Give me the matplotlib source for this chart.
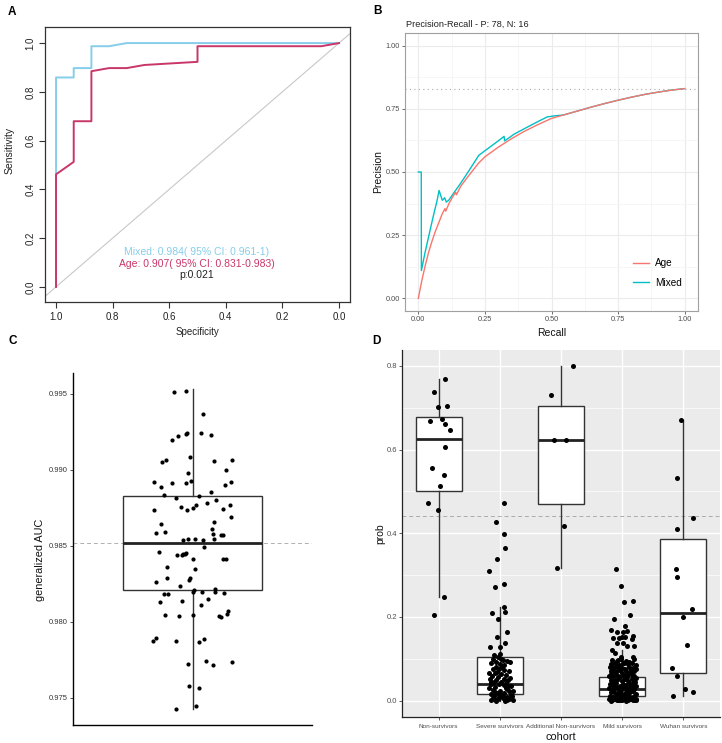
import matplotlib
matplotlib.use("Agg")
import matplotlib.pyplot as plt
from matplotlib import font_manager
from matplotlib.lines import Line2D
import numpy as np

plt.rcParams['font.family'] = ['Liberation Sans', 'DejaVu Sans']
names = {f.name for f in font_manager.fontManager.ttflist}
HAS_NARROW = 'Liberation Sans Narrow' in names
NARROW = ['Liberation Sans Narrow', 'Liberation Sans'] if HAS_NARROW else ['Liberation Sans']

W, H = 722, 743

# ---------------- Panel A data (ROC) ----------------
mixed_spec = [1.0, 1.0, 0.9375, 0.9375, 0.875, 0.875, 0.8125, 0.75, 0.0]
mixed_sens = [0.0, 67/78, 67/78, 70/78, 70/78, 77/78, 77/78, 1.0, 1.0]
age_spec = [1.0, 1.0, 0.9375, 0.9375, 0.875, 0.875, 0.8125, 0.75, 0.6875, 0.5, 0.5, 0.0625, 0.0]
age_sens = [0.0, 36/78, 40/78, 53/78, 53/78, 69/78, 70/78, 70/78, 71/78, 72/78, 77/78, 77/78, 1.0]
roc_ticks = [1.0, 0.8, 0.6, 0.4, 0.2, 0.0]
mixed_label = "Mixed: 0.984( 95% CI: 0.961-1)"
age_label = "Age: 0.907( 95% CI: 0.831-0.983)"
p_label = "p:0.021"

# ---------------- Panel B data (PR) ----------------
age_recall = [0, 0.013, 0.026, 0.038, 0.051, 0.064, 0.077, 0.09, 0.1, 0.103, 0.115, 0.128, 0.14,
              0.143, 0.16, 0.18, 0.2, 0.227, 0.25, 0.3, 0.35, 0.4, 0.45, 0.5, 0.55, 0.6, 0.65,
              0.7, 0.75, 0.8, 0.85, 0.9, 0.95, 1.0]
age_prec = [0, 0.07, 0.13, 0.18, 0.225, 0.265, 0.3, 0.335, 0.355, 0.345, 0.375, 0.4, 0.42,
            0.41, 0.445, 0.473, 0.5, 0.536, 0.56, 0.598, 0.632, 0.662, 0.688, 0.712, 0.727,
            0.742, 0.757, 0.771, 0.784, 0.796, 0.807, 0.816, 0.824, 0.83]
mixed_recall = [0, 0.011, 0.0115, 0.025, 0.04, 0.055, 0.07, 0.078, 0.09, 0.099, 0.105, 0.114,
                0.135, 0.158, 0.19, 0.227, 0.25, 0.3, 0.322, 0.324, 0.36, 0.41, 0.45, 0.484,
                0.51, 0.54, 0.55, 0.6, 0.65, 0.7, 0.75, 0.8, 0.85, 0.9, 0.95, 1.0]
mixed_prec = [0.5, 0.5, 0.11, 0.18, 0.25, 0.32, 0.385, 0.427, 0.388, 0.398, 0.381, 0.388,
              0.42, 0.454, 0.505, 0.566, 0.584, 0.623, 0.641, 0.623, 0.65, 0.678, 0.7, 0.718,
              0.722, 0.725, 0.727, 0.742, 0.757, 0.771, 0.784, 0.796, 0.807, 0.816, 0.824, 0.83]
pr_baseline = 78 / 94
pr_title = "Precision-Recall - P: 78, N: 16"

# ---------------- Panel C data (bootstrap AUC) ----------------
auc_vals = [0.99511, 0.99520, 0.99370, 0.99199, 0.99226, 0.99239, 0.99241, 0.99243, 0.99230,
            0.99052, 0.99065, 0.99083, 0.99061, 0.99065, 0.99002, 0.98982, 0.98918, 0.98885,
            0.98916, 0.98912, 0.98929, 0.98857, 0.98901, 0.98923, 0.98835, 0.98815, 0.98828,
            0.98802, 0.98736, 0.98758, 0.98736, 0.98749, 0.98769, 0.98780, 0.98745, 0.98769,
            0.98692, 0.98646, 0.98657, 0.98582, 0.98591, 0.98613, 0.98576, 0.98574, 0.98569,
            0.98538, 0.98543, 0.98545, 0.98541, 0.98545, 0.98495, 0.98462, 0.98440, 0.98440,
            0.98444, 0.98446, 0.98451, 0.98411, 0.98413, 0.98413, 0.98363, 0.98347, 0.98262,
            0.98290, 0.98279, 0.98286, 0.98235, 0.98185, 0.98187, 0.98198, 0.98207, 0.98198,
            0.98198, 0.98214, 0.98192, 0.98132, 0.98137, 0.98152, 0.98110, 0.98047, 0.98036,
            0.98047, 0.98040, 0.98033, 0.98051, 0.98071, 0.97875, 0.97897, 0.97873, 0.97867,
            0.97886, 0.97726, 0.97741, 0.97720, 0.97737, 0.97579, 0.97566, 0.97428, 0.97445]
auc_jitter = [-0.092, -0.033, 0.052, -0.102, -0.072, -0.035, -0.030, 0.042, 0.094, -0.154,
              -0.131, -0.015, 0.110, 0.196, 0.169, -0.025, -0.192, -0.156, -0.102, -0.032,
              -0.010, 0.094, 0.164, 0.192, -0.144, -0.085, 0.032, 0.119, -0.192, -0.059,
              -0.030, 0.000, 0.020, 0.074, 0.151, 0.186, 0.192, -0.157, 0.107, -0.181,
              -0.136, 0.097, 0.102, 0.142, 0.152, -0.049, -0.023, 0.013, 0.054, 0.107,
              0.057, -0.167, -0.080, -0.055, -0.047, -0.040, -0.033, 0.002, 0.152, 0.166,
              -0.129, 0.012, -0.181, -0.126, -0.020, -0.015, -0.064, -0.141, -0.124, 0.005,
              0.010, 0.049, 0.114, 0.115, 0.157, -0.162, -0.054, 0.077, 0.045, -0.137,
              -0.067, 0.002, 0.134, 0.144, 0.174, 0.176, -0.199, -0.181, -0.082, 0.033,
              0.060, -0.023, 0.070, 0.102, 0.197, -0.020, 0.035, -0.084, 0.020]
auc_box = dict(q1=0.9821, med=0.9852, q3=0.98829, whislo=0.97428, whishi=0.99533)
auc_mean = 0.98518
auc_ticks = [0.975, 0.980, 0.985, 0.990, 0.995]

# ---------------- Panel D data (cohort probabilities) ----------------
cohorts = ["Non-survivors", "Severe survivors", "Additional Non-survivors",
           "Mild survivors", "Wuhan survivors"]
box_q1 = [0.502, 0.016, 0.470, 0.011, 0.065]
box_med = [0.626, 0.039, 0.622, 0.027, 0.209]
box_q3 = [0.679, 0.104, 0.703, 0.056, 0.387]
box_lo = [0.247, 0.0, 0.316, 0.0, 0.012]
box_hi = [0.768, 0.225, 0.800, 0.120, 0.670]
threshold = 0.4415

non_surv_prob = [0.768, 0.738, 0.702, 0.704, 0.668, 0.673, 0.662, 0.647, 0.606, 0.556,
                 0.539, 0.512, 0.472, 0.456, 0.247, 0.204]
non_surv_dx = [0.098, -0.076, -0.011, 0.142, -0.136, 0.049, 0.103, 0.191, 0.103, -0.103,
               0.093, 0.027, -0.180, -0.016, 0.093, -0.076]

severe_prob = [0.472, 0.426, 0.398, 0.366, 0.339, 0.309, 0.271, 0.279, 0.225, 0.210, 0.213,
               0.195, 0.163, 0.151, 0.139, 0.128, 0.129,
               0.109, 0.112, 0.105, 0.099, 0.097, 0.093, 0.095, 0.089, 0.088, 0.080, 0.075,
               0.075, 0.073, 0.067, 0.064, 0.059, 0.056, 0.061, 0.051, 0.049, 0.045, 0.045,
               0.049, 0.040, 0.040, 0.038, 0.035, 0.033, 0.030, 0.030, 0.026, 0.024, 0.024,
               0.019, 0.022, 0.016, 0.018, 0.011, 0.013, 0.0096, 0.011, 0.006, 0.005, 0.006,
               0.003, 0.0, 0.0, 0.002, 0.002,
               0.085, 0.070, 0.055, 0.028, 0.010, 0.100, 0.065, 0.042, 0.015, 0.003,
               0.092, 0.081, 0.069, 0.052, 0.036, 0.021, 0.008, 0.001, 0.044, 0.013]
severe_dx = [0.071, -0.071, 0.060, 0.082, -0.044, -0.174, -0.082, 0.076, 0.076, -0.125, 0.087,
             -0.027, 0.125, -0.049, 0.087, -0.158, 0.005,
             -0.092, 0.005, -0.038, -0.120, 0.049, -0.065, 0.114, -0.147, 0.000, -0.065, -0.114,
             -0.011, 0.071, -0.082, 0.016, -0.131, -0.038, 0.098, -0.158, -0.065, -0.103, 0.027,
             0.136, -0.147, -0.011, 0.060, 0.180, -0.082, -0.174, 0.098, -0.120, 0.005, 0.153,
             -0.049, 0.207, -0.147, 0.071, -0.092, 0.016, 0.125, 0.191, -0.120, -0.038, 0.044,
             0.153, -0.065, 0.082, 0.207, -0.147,
             0.060, 0.150, 0.170, 0.120, 0.050, 0.020, -0.170, 0.100, -0.010, -0.100,
             0.165, 0.030, -0.045, 0.070, 0.130, -0.080, -0.020, 0.120, -0.150, 0.180]

add_non_prob = [0.800, 0.730, 0.622, 0.622, 0.418, 0.316]
add_non_dx = [0.191, -0.169, -0.114, 0.076, 0.049, -0.071]

mild_prob = [0.314, 0.275, 0.237, 0.238, 0.204, 0.195, 0.179, 0.169, 0.165, 0.163, 0.167,
             0.149, 0.149, 0.152, 0.152, 0.155, 0.148, 0.139, 0.139, 0.131, 0.131, 0.121,
             0.115, 0.105, 0.105, 0.097,
             0.098, 0.095, 0.100, 0.096, 0.093, 0.099,
             0.088, 0.091, 0.086, 0.090, 0.087, 0.089, 0.085,
             0.080, 0.077, 0.082, 0.079, 0.076, 0.081, 0.078, 0.075,
             0.071, 0.068, 0.073, 0.066, 0.070, 0.067, 0.072,
             0.060, 0.058, 0.062, 0.056, 0.061, 0.057, 0.063, 0.059, 0.055,
             0.050, 0.047, 0.052, 0.046, 0.051, 0.048, 0.053, 0.045,
             0.041, 0.038, 0.043, 0.036, 0.040, 0.037, 0.042, 0.039, 0.035,
             0.030, 0.027, 0.032, 0.026, 0.031, 0.028, 0.033, 0.029,
             0.020, 0.018, 0.022, 0.017, 0.021, 0.019, 0.023, 0.016,
             0.012, 0.009, 0.014, 0.010, 0.013, 0.011, 0.008, 0.012,
             0.004, 0.002, 0.005, 0.001, 0.003, 0.006, 0.002, 0.004, 0.001,
             0.000, 0.003, 0.001, 0.002, 0.000, 0.003, 0.001, 0.002,
             0.084, 0.074, 0.064, 0.054, 0.044, 0.034, 0.024, 0.015, 0.006,
             0.083, 0.073, 0.063, 0.054, 0.043, 0.034, 0.025, 0.014, 0.005,
             0.090, 0.078, 0.066, 0.050, 0.038, 0.026, 0.018, 0.010, 0.002]
mild_dx = [-0.093, -0.022, 0.027, 0.180, 0.125, -0.136, 0.049, -0.180, -0.082, 0.011, 0.076,
           -0.152, -0.054, -0.005, 0.049, 0.185, 0.158, -0.082, 0.016, 0.087, 0.200, -0.174,
           -0.110, -0.022, 0.180, -0.071,
           -0.17, -0.09, -0.02, 0.06, 0.12, 0.20,
           -0.19, -0.12, -0.05, 0.02, 0.09, 0.16, 0.22,
           -0.20, -0.14, -0.08, -0.01, 0.05, 0.11, 0.18, 0.23,
           -0.18, -0.11, -0.06, 0.00, 0.07, 0.13, 0.20,
           -0.21, -0.15, -0.09, -0.03, 0.03, 0.08, 0.14, 0.19, 0.23,
           -0.19, -0.13, -0.07, -0.01, 0.05, 0.10, 0.16, 0.21,
           -0.20, -0.16, -0.10, -0.04, 0.01, 0.07, 0.12, 0.18, 0.22,
           -0.21, -0.14, -0.08, -0.02, 0.04, 0.09, 0.15, 0.20,
           -0.18, -0.12, -0.05, 0.00, 0.06, 0.11, 0.17, 0.23,
           -0.20, -0.15, -0.09, -0.03, 0.03, 0.08, 0.13, 0.19,
           -0.21, -0.17, -0.11, -0.06, 0.00, 0.05, 0.10, 0.15, 0.21,
           -0.19, -0.13, -0.08, -0.01, 0.07, 0.12, 0.18, 0.23,
           -0.16, -0.04, 0.09, 0.21, -0.13, 0.02, 0.15, -0.07, 0.18,
           -0.06, 0.14, -0.19, 0.04, 0.17, -0.12, 0.08, -0.02, 0.22,
           0.03, -0.15, 0.15, -0.11, 0.13, -0.17, 0.10, 0.02, -0.04]

wuhan_prob = [0.670, 0.532, 0.436, 0.411, 0.314, 0.296, 0.218, 0.199, 0.134, 0.078, 0.059,
              0.029, 0.021, 0.011]
wuhan_dx = [-0.044, -0.109, 0.153, -0.104, -0.114, -0.098, 0.142, -0.005, 0.060, -0.180,
            -0.098, 0.022, 0.158, -0.163]

group_probs = [non_surv_prob, severe_prob, add_non_prob, mild_prob, wuhan_prob]
group_dx = [non_surv_dx, severe_dx, add_non_dx, mild_dx, wuhan_dx]


def ax_rect(left, top, right, bottom):
    return [left / W, 1 - bottom / H, (right - left) / W, (bottom - top) / H]


fig = plt.figure(figsize=(W / 100, H / 100), dpi=100)

# ================= Panel A =================
axA = fig.add_axes(ax_rect(45, 27, 350, 302))
mixed_col = '#86CDEA'
age_col = '#C8366A'
axA.axline((1, 0), (0, 1), color='#C8C8C8', lw=0.8, zorder=1)
axA.plot(mixed_spec, mixed_sens, color=mixed_col, lw=1.4, zorder=2)
axA.plot(age_spec, age_sens, color=age_col, lw=1.4, zorder=3)
axA.set_xlim(1.039, -0.039)
axA.set_ylim(-0.062, 1.066)
axA.set_xticks(roc_ticks)
axA.set_xticklabels([f"{t:.1f}" for t in roc_ticks])
axA.set_yticks(roc_ticks)
axA.set_yticklabels([f"{t:.1f}" for t in roc_ticks], rotation=90, va='center')
axA.tick_params(axis='both', labelsize=7, length=4, width=0.8, color='#333333',
                labelcolor='#222222', pad=3)
for s in axA.spines.values():
    s.set_color('#333333')
    s.set_linewidth(0.9)
axA.set_xlabel("Specificity", fontsize=7, color='#222222')
axA.xaxis.set_label_coords(0.5, -0.109)
axA.xaxis.label.set_va('center')
axA.set_ylabel("Sensitivity", fontsize=7.5, color='#222222')
axA.yaxis.set_label_coords(-0.115, 0.55)
axA.yaxis.label.set_va('center')
axA.text(0.498, 0.182, mixed_label, color=mixed_col, fontsize=7.5, ha='center', va='center',
         transform=axA.transAxes)
axA.text(0.498, 0.138, age_label, color=age_col, fontsize=7.5, ha='center', va='center',
         transform=axA.transAxes)
axA.text(0.498, 0.098, p_label, color='#222222', fontsize=7.5, ha='center', va='center',
         transform=axA.transAxes)

# ================= Panel B =================
axB = fig.add_axes(ax_rect(405, 33, 698, 311))
age_pr_col = '#F8766D'
mixed_pr_col = '#00BFC4'
axB.set_xlim(-0.05, 1.05)
axB.set_ylim(-0.05, 1.05)
major = [0, 0.25, 0.5, 0.75, 1.0]
minor = [0.125, 0.375, 0.625, 0.875]
axB.set_xticks(major)
axB.set_yticks(major)
axB.set_xticks(minor, minor=True)
axB.set_yticks(minor, minor=True)
axB.set_xticklabels([f"{t:.2f}" for t in major])
axB.set_yticklabels([f"{t:.2f}" for t in major])
axB.grid(which='major', color='#EBEBEB', lw=0.8)
axB.grid(which='minor', color='#F3F3F3', lw=0.5)
axB.set_axisbelow(True)
axB.tick_params(which='major', labelsize=5.3, length=2.5, width=0.6, color='#555555',
                labelcolor='#4D4D4D', pad=1.2)
axB.tick_params(which='minor', length=0)
for s in axB.spines.values():
    s.set_color('#A0A0A0')
    s.set_linewidth(0.8)
axB.axhline(pr_baseline, color='#AAAAAA', lw=0.8, ls=(0, (1, 3)), zorder=1)
axB.plot(age_recall, age_prec, color=age_pr_col, lw=1.0, zorder=3, label='Age')
axB.plot(mixed_recall, mixed_prec, color=mixed_pr_col, lw=1.0, zorder=2, label='Mixed')
axB.text(0.003, 1.032, pr_title, fontsize=6.6, color='#222222', ha='left', va='center',
         transform=axB.transAxes)
axB.set_xlabel("Recall", fontsize=7.5, color='#111111')
axB.xaxis.set_label_coords(0.5, -0.079)
axB.xaxis.label.set_va('center')
axB.set_ylabel("Precision", fontsize=7.5, color='#111111')
axB.yaxis.set_label_coords(-0.092, 0.5)
axB.yaxis.label.set_va('center')
handles = [Line2D([], [], color=age_pr_col, lw=1.0), Line2D([], [], color=mixed_pr_col, lw=1.0)]
axB.legend(handles, ['Age', 'Mixed'], loc='upper left', bbox_to_anchor=(0.778, 0.19),
           frameon=False, fontsize=7.2, handlelength=1.6, handletextpad=0.6,
           labelspacing=0.95, borderpad=0, borderaxespad=0)

# ================= Panel C =================
axC = fig.add_axes(ax_rect(73, 373, 312, 725))
axC.axhline(auc_mean, color='#B0B0B0', lw=0.7, ls=(0, (4, 3)), zorder=1)
stats = [dict(auc_box, fliers=[])]
axC.bxp(stats, positions=[1], widths=0.7, showfliers=False, showcaps=False, patch_artist=True,
        manage_ticks=False,
        boxprops=dict(facecolor='white', edgecolor='#333333', lw=1.0),
        whiskerprops=dict(color='#333333', lw=1.0),
        medianprops=dict(color='#222222', lw=2.0), zorder=2)
axC.scatter(np.array(auc_jitter) + 1, auc_vals, s=9, color='black', zorder=3, linewidths=0)
axC.set_xlim(0.4, 1.6)
axC.set_ylim(0.97322, 0.99638)
axC.set_xticks([])
axC.set_yticks(auc_ticks)
axC.set_yticklabels([f"{t:.3f}" for t in auc_ticks], family=NARROW)
axC.tick_params(axis='y', labelsize=6.0 if HAS_NARROW else 5.5, length=2.5, width=0.6,
                color='#333333', labelcolor='#333333', pad=1.2)
axC.spines['top'].set_visible(False)
axC.spines['right'].set_visible(False)
axC.spines['left'].set_linewidth(1.0)
axC.spines['bottom'].set_linewidth(1.0)
axC.set_ylabel("generalized AUC", fontsize=7.8, color='#111111')
axC.yaxis.set_label_coords(-0.138, 0.47)
axC.yaxis.label.set_va('center')

# ================= Panel D =================
axD = fig.add_axes(ax_rect(402, 350, 720, 717))
axD.set_facecolor('#EBEBEB')
pos = np.arange(1, len(cohorts) + 1)
axD.axhline(threshold, color='#AAAAAA', lw=0.7, ls=(0, (4, 3)), zorder=1)
dstats = [dict(q1=a, med=b, q3=c, whislo=d, whishi=e, fliers=[])
          for a, b, c, d, e in zip(box_q1, box_med, box_q3, box_lo, box_hi)]
axD.bxp(dstats, positions=pos, widths=0.75, showfliers=False, showcaps=False, patch_artist=True,
        manage_ticks=False,
        boxprops=dict(facecolor='white', edgecolor='#333333', lw=1.0),
        whiskerprops=dict(color='#333333', lw=1.0),
        medianprops=dict(color='#222222', lw=2.0), zorder=2)
for p, vals, dx in zip(pos, group_probs, group_dx):
    axD.scatter(p + np.array(dx), vals, s=13, color='black', zorder=3, linewidths=0)
axD.set_xlim(0.4, 5.6)
axD.set_ylim(-0.039, 0.838)
dticks = [0.0, 0.2, 0.4, 0.6, 0.8]
axD.set_yticks(dticks)
axD.set_yticks([0.1, 0.3, 0.5, 0.7], minor=True)
axD.set_yticklabels([f"{t:.1f}" for t in dticks], family=NARROW)
axD.set_xticks(pos)
axD.set_xticklabels(cohorts, family=NARROW)
axD.grid(which='major', color='white', lw=1.0)
axD.grid(which='minor', axis='y', color='white', lw=0.5)
axD.set_axisbelow(True)
axD.tick_params(which='major', axis='y', labelsize=6.0 if HAS_NARROW else 5.5, length=2.5,
                width=0.6, color='#444444', labelcolor='#4D4D4D', pad=1.2)
axD.tick_params(which='major', axis='x', labelsize=5.8 if HAS_NARROW else 4.6, length=2.5,
                width=0.6, color='#444444', labelcolor='#4D4D4D', pad=2.5)
axD.tick_params(which='minor', length=0)
axD.spines['top'].set_visible(False)
axD.spines['right'].set_visible(False)
axD.spines['left'].set_color('#222222')
axD.spines['bottom'].set_color('#222222')
axD.spines['left'].set_linewidth(0.9)
axD.spines['bottom'].set_linewidth(0.9)
axD.set_xlabel("cohort", fontsize=7.8, color='#111111')
axD.xaxis.set_label_coords(0.5, -0.054)
axD.xaxis.label.set_va('center')
axD.set_ylabel("prob", fontsize=7.5, color='#111111')
axD.yaxis.set_label_coords(-0.068, 0.5)
axD.yaxis.label.set_va('center')

# Panel letters
for letter, (x, y) in zip("ABCD", [(12, 12), (377, 11), (13, 341), (376, 341)]):
    fig.text(x / W, 1 - y / H, letter, fontsize=8.5, fontweight='bold', ha='center',
             va='center')

fig.savefig("out.png", dpi=100)
